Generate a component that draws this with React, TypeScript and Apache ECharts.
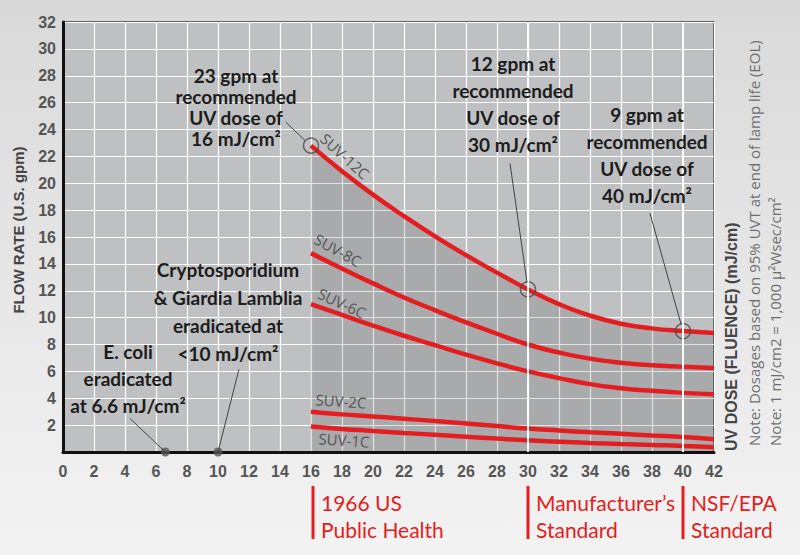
import React, { useEffect, useRef } from "react";
import * as echarts from "echarts";

// UV dose (mJ/cm²) sample points for curves
const doses = [16, 18, 20, 22, 24, 26, 28, 30, 32, 34, 36, 38, 40, 42];
const suv12C = [22.8, 20.9, 19.15, 17.55, 16.05, 14.65, 13.35, 12.1, 11.0, 10.15, 9.55, 9.2, 9.0, 8.85];
const suv8C = [14.8, 13.65, 12.55, 11.5, 10.55, 9.65, 8.8, 8.0, 7.4, 6.95, 6.65, 6.45, 6.35, 6.25];
const suv6C = [11.0, 10.2, 9.4, 8.65, 7.95, 7.25, 6.6, 6.0, 5.5, 5.05, 4.75, 4.55, 4.4, 4.3];
const suv2C = [3.0, 2.8, 2.65, 2.48, 2.3, 2.12, 1.93, 1.74, 1.6, 1.47, 1.35, 1.23, 1.12, 0.95];
const suv1C = [1.9, 1.72, 1.57, 1.42, 1.28, 1.14, 1.0, 0.87, 0.77, 0.67, 0.59, 0.52, 0.45, 0.35];

// recommended-dose points (open circles)
const recDose = [16, 30, 40];
const recFlow = [22.8, 12.1, 9.0];
// eradication points (filled dots)
const eradDose = [6.6, 10];
const eradFlow = [0, 0];
// highlighted standard doses
const standardDoses = [30, 40];

// leader lines [fromX, fromY, toX, toY] in data units
const leaders = [
  [14.37, 24.55, 15.6, 23.2],
  [28.84, 21.47, 29.94, 12.6],
  [37.87, 17.76, 39.88, 9.5],
  [4.32, 2.5, 6.6, 0],
  [11.35, 6.15, 10, 0],
];

const RED = "#e41e20";
const BOLDC = "Lato,'Noto Sans',sans-serif";
const SANS = "'Liberation Sans',Arial,sans-serif";

export default function App() {
  const ref = useRef<HTMLDivElement>(null);
  useEffect(() => {
    const chart = echarts.init(ref.current!, null, { renderer: "svg" });
    const pair = (ys: number[]) => doses.map((x, i) => [x, ys[i]]);
    const curve = (name: string, ys: number[]) => ({
      name,
      type: "line",
      smooth: 0.5,
      symbol: "none",
      data: pair(ys),
      lineStyle: { color: RED, width: 4.5 },
      z: 2,
    });
    chart.setOption({
      animation: false,
      backgroundColor: new echarts.graphic.LinearGradient(0, 0, 0, 1, [
        { offset: 0, color: "#d9d9d9" },
        { offset: 1, color: "#f3f3f3" },
      ]),
      grid: {
        left: 63,
        right: 86,
        top: 22,
        bottom: 103,
        show: true,
        backgroundColor: "#bfc0c2",
        borderColor: "#3a3a3a",
        borderWidth: 1.5,
      },
      xAxis: {
        type: "value",
        min: 0,
        max: 42,
        interval: 2,
        axisLine: { show: true, onZero: false, lineStyle: { color: "#111", width: 3 } },
        axisTick: { show: false },
        splitLine: { show: true, lineStyle: { color: "#ffffff", width: 1.2 } },
        axisLabel: { color: "#555", fontWeight: "bold", fontSize: 16, margin: 11, fontFamily: SANS },
      },
      yAxis: {
        type: "value",
        min: 0,
        max: 32,
        interval: 2,
        axisLine: { show: true, onZero: false, lineStyle: { color: "#111", width: 3 } },
        axisTick: { show: false },
        splitLine: { show: true, lineStyle: { color: "#ffffff", width: 1.2 } },
        axisLabel: {
          color: "#555",
          fontWeight: "bold",
          fontSize: 16,
          margin: 7,
          fontFamily: SANS,
          formatter: (v: number) => (v === 0 ? "" : String(v)),
        },
      },
      series: [
        {
          name: "shade",
          type: "line",
          smooth: 0.5,
          symbol: "none",
          data: pair(suv12C),
          lineStyle: { width: 0 },
          areaStyle: { color: "rgba(0,0,0,0.16)", origin: "start" },
          z: 2,
        },
        {
          name: "marks",
          type: "line",
          data: [],
          z: 2,
          markLine: {
            silent: true,
            symbol: "none",
            label: { show: false },
            lineStyle: { color: "#ffffff", width: 2, type: "solid" },
            data: standardDoses.map((d) => ({ xAxis: d })),
          },
        },
        {
          name: "leaders",
          type: "line",
          data: [],
          z: 2,
          markLine: {
            silent: true,
            symbol: "none",
            label: { show: false },
            lineStyle: { color: "#444", width: 1, type: "solid" },
            data: leaders.map((l) => [{ coord: [l[0], l[1]] }, { coord: [l[2], l[3]] }]),
          },
        },
        curve("SUV-12C", suv12C),
        curve("SUV-8C", suv8C),
        curve("SUV-6C", suv6C),
        curve("SUV-2C", suv2C),
        curve("SUV-1C", suv1C),
        {
          type: "scatter",
          data: recDose.map((d, i) => [d, recFlow[i]]),
          symbol: "circle",
          symbolSize: 15,
          itemStyle: { color: "rgba(0,0,0,0)", borderColor: "#4a4a4a", borderWidth: 1.5 },
          z: 3,
        },
        {
          type: "scatter",
          data: eradDose.map((d, i) => [d, eradFlow[i]]),
          symbol: "circle",
          symbolSize: 9,
          clip: false,
          itemStyle: { color: "#555" },
          z: 3,
        },
      ],
      graphic: [
        // y axis title
        {
          type: "text",
          x: 18,
          y: 230,
          rotation: Math.PI / 2,
          style: {
            text: "FLOW RATE (U.S. gpm)",
            font: `bold 15px ${SANS}`,
            fill: "#444",
            align: "center",
            verticalAlign: "middle",
          },
        },
        // right side notes
        {
          type: "text",
          x: 731,
          y: 451,
          rotation: Math.PI / 2,
          style: {
            text: "UV DOSE (FLUENCE) (mJ/cm)",
            font: `bold 16px ${SANS}`,
            fill: "#444",
            align: "left",
            verticalAlign: "middle",
          },
        },
        {
          type: "text",
          x: 754,
          y: 446,
          rotation: Math.PI / 2,
          style: {
            text: "Note: Dosages based on 95% UVT at end of lamp life (EOL)",
            font: `15px 'Open Sans',sans-serif`,
            fill: "#6e6e6e",
            align: "left",
            verticalAlign: "middle",
          },
        },
        {
          type: "text",
          x: 775,
          y: 446,
          rotation: Math.PI / 2,
          style: {
            text: "Note: 1 mJ/cm2 = 1,000 µ²Wsec/cm²",
            font: `15px 'Open Sans',sans-serif`,
            fill: "#6e6e6e",
            align: "left",
            verticalAlign: "middle",
          },
        },
        // annotation blocks
        ...[
          { x: 236, y: 107, lh: 21, fs: 19, t: "23 gpm at\nrecommended\nUV dose of\n16 mJ/cm²" },
          { x: 513, y: 104, lh: 27, fs: 19, t: "12 gpm at\nrecommended\nUV dose of\n30 mJ/cm²" },
          { x: 647, y: 155, lh: 27, fs: 19, t: "9 gpm at\nrecommended\nUV dose of\n40 mJ/cm²" },
          { x: 228, y: 311, lh: 28, fs: 19, t: "Cryptosporidium\n& Giardia Lamblia\neradicated at\n<10 mJ/cm²" },
          { x: 128, y: 378, lh: 27, fs: 19, t: "E. coli\neradicated\nat 6.6 mJ/cm²" },
        ].map((b) => ({
          type: "text",
          x: b.x,
          y: b.y,
          z: 10,
          style: {
            text: b.t,
            font: `bold ${b.fs}px ${BOLDC}`,
            lineHeight: b.lh,
            fill: "#1c1c1c",
            align: "center",
            verticalAlign: "middle",
          },
        })),
        // curve labels
        ...[
          { x: 345, y: 156, r: -42, t: "SUV-12C" },
          { x: 338, y: 250, r: -29, t: "SUV-8C" },
          { x: 342, y: 303, r: -25, t: "SUV-6C" },
          { x: 341, y: 401, r: -4, t: "SUV-2C" },
          { x: 344, y: 440, r: -4, t: "SUV-1C" },
        ].map((c) => ({
          type: "text",
          x: c.x,
          y: c.y,
          rotation: (c.r * Math.PI) / 180,
          z: 10,
          style: {
            text: c.t,
            font: `15px 'Open Sans',sans-serif`,
            fill: "#555",
            align: "center",
            verticalAlign: "middle",
          },
        })),
        // standards below axis
        ...[
          { x: 313, t: "1966 US\nPublic Health" },
          { x: 528, t: "Manufacturer’s\nStandard" },
          { x: 683, t: "NSF/EPA\nStandard" },
        ].flatMap((s) => [
          {
            type: "rect",
            shape: { x: s.x - 1.5, y: 486, width: 3, height: 53 },
            style: { fill: RED },
          },
          {
            type: "text",
            x: s.x + 8,
            y: 516,
            style: {
              text: s.t,
              font: `21px ${BOLDC}`,
              lineHeight: 27,
              fill: RED,
              align: "left",
              verticalAlign: "middle",
            },
          },
        ]),
      ],
    });
    return () => chart.dispose();
  }, []);
  return (
    <div
      ref={ref}
      style={{ position: "fixed", left: 0, top: 0, width: 800, height: 555 }}
    />
  );
}
